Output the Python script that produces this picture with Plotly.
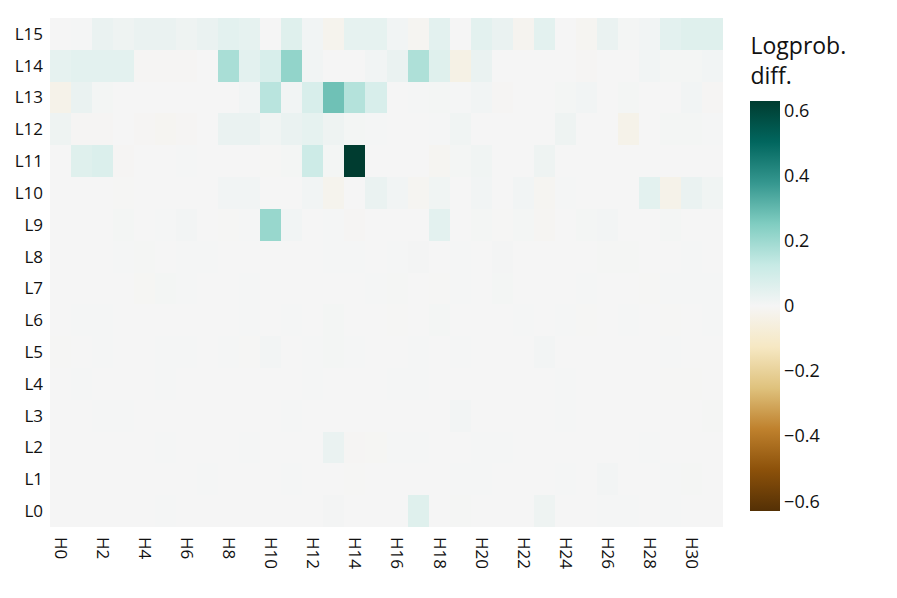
import plotly.graph_objects as go

heads = [f"H{i}" for i in range(32)]
layers = [f"L{i}" for i in range(16)]

# logprob difference per layer (rows L0..L15) and head (columns H0..H31)
L0 = [0, 0.001, 0, 0, 0, 0.003, 0, 0, 0.001, 0.001, 0, 0.001, 0, 0.006, 0, 0,
      0, 0.06, 0, 0.004, 0, 0, 0, 0.02, 0, 0, 0.003, 0.003, 0, 0.002, 0, 0]
L1 = [0, 0, 0, 0, 0, 0, 0, 0.003, 0, 0, 0, 0.002, 0, 0, -0.002, 0,
      0, 0, 0, 0.003, 0.002, 0, 0, -0.001, 0.002, 0, 0.008, 0, 0, 0.002, 0.004, 0]
L2 = [0, 0, 0.001, 0, 0, 0.002, 0, 0, 0, 0.002, 0, 0, 0, 0.03, -0.005, -0.004,
      0.002, 0.002, 0, 0, 0.003, 0.003, 0, 0, 0, 0, 0, 0, 0.002, -0.001, 0, 0]
L3 = [0, 0, 0.002, 0.002, 0, 0, 0, 0, 0, 0, 0, 0.002, 0, 0, 0, 0,
      0, 0, -0.001, 0.008, 0, 0, 0, 0, 0.003, 0, 0, 0, 0, 0, 0, 0.004]
L4 = [0, 0.002, 0, 0, 0, 0.002, 0, 0, 0, 0, 0, 0, 0.002, 0, 0, 0,
      0.003, 0.003, 0, 0.001, 0, 0, -0.001, 0, 0.002, 0, 0, 0.001, -0.001, -0.002, -0.002, 0]
L5 = [-0.002, 0, 0.002, 0, 0, 0.002, 0.002, 0, 0.002, -0.002, 0.008, 0, 0.002, 0.005, 0.002, 0,
      0, 0.003, 0, 0.002, 0, 0, 0, 0.008, 0, 0, 0, 0, 0, 0.003, 0, 0]
L6 = [0, 0.003, 0.003, 0, 0, 0, 0, 0, 0, 0.002, 0, 0.002, 0, 0.005, 0, 0,
      -0.002, 0, 0.005, 0, 0, 0, 0.002, 0, 0.003, -0.002, 0, 0.003, 0, -0.002, 0, 0.002]
L7 = [0, 0, 0, 0, -0.004, 0.005, 0.003, 0, 0, 0.003, 0, 0, 0, 0, 0, 0.003,
      0.004, 0, -0.003, 0.003, 0, 0.005, 0, 0, 0, 0.003, 0, 0, -0.002, 0.002, 0.003, 0.003]
L8 = [0, 0, 0, 0.002, 0.004, 0, 0.003, 0.003, 0, 0, 0, 0, 0, 0.003, 0.003, 0,
      0.003, 0.006, 0, 0.002, 0, 0.006, 0, 0, 0, 0, 0.004, 0.004, 0, 0, 0.002, 0]
L9 = [0, 0, 0, 0.005, 0, 0.003, 0.008, 0, -0.002, 0.003, 0.21, 0.01, 0, 0.003, -0.005, 0,
      0, 0, 0.05, 0, 0.005, -0.003, 0.005, -0.008, 0, 0.005, 0.008, 0, 0, 0.005, 0, 0]
L10 = [0, 0, 0, -0.002, 0, 0, 0, 0, 0.01, 0.01, 0, 0, 0.01, -0.02, 0, 0.03,
       0.01, -0.01, 0.015, 0, 0.01, 0, 0.01, -0.01, 0.003, 0, 0, 0, 0.05, -0.03, 0.03, 0.015]
L11 = [0, 0.06, 0.07, -0.005, 0, 0, 0.003, 0, 0, 0, -0.002, 0.005, 0.11, 0.005, 0.63, 0,
       0, 0, -0.01, 0.005, 0.015, 0, 0, 0.02, 0, 0, 0, 0, 0, 0, 0, 0]
L12 = [0.02, -0.005, -0.005, 0, -0.005, -0.01, -0.005, 0, 0.03, 0.03, 0.015, 0.03, 0.04, 0.02, 0.005, 0.003,
       0, 0, 0.003, 0.015, 0, 0, 0, 0, 0.02, 0, 0, -0.03, 0, 0.005, 0.005, 0.003]
L13 = [-0.03, 0.03, 0.005, 0, 0, 0, 0, 0, 0, 0.01, 0.15, 0.01, 0.08, 0.28, 0.16, 0.08,
       0, 0.003, 0.005, 0.003, 0.01, -0.005, 0, 0, 0.005, 0.01, 0, 0.005, 0, 0, 0.01, -0.005]
L14 = [0.04, 0.05, 0.05, 0.05, -0.005, -0.005, -0.005, 0, 0.18, 0.05, 0.08, 0.22, 0.01, 0, 0, 0.01,
       0.03, 0.17, 0.06, -0.04, 0.03, 0, 0, 0, 0, -0.005, 0, 0, 0.01, 0.005, 0.005, 0.01]
L15 = [0, 0.003, 0.03, 0.02, 0.03, 0.03, 0.02, 0.03, 0.05, 0.04, 0, 0.06, 0.01, -0.02, 0.04, 0.04,
       0.01, -0.01, 0.05, 0, 0.05, 0.03, -0.015, 0.05, 0, -0.01, 0.03, 0.005, 0.01, 0.05, 0.06, 0.06]

z = [L0, L1, L2, L3, L4, L5, L6, L7, L8, L9, L10, L11, L12, L13, L14, L15]

font = "Open Sans"

fig = go.Figure()
fig.add_trace(go.Heatmap(
    z=z, x=heads, y=layers,
    colorscale="BrBG", zmin=-0.63, zmax=0.63, zmid=0,
    colorbar=dict(
        title=dict(text="Logprob.<br>diff.", side="top", font=dict(size=23, family=font, color="#111")),
        tickvals=[-0.6, -0.4, -0.2, 0, 0.2, 0.4, 0.6],
        tickfont=dict(size=18, family=font, color="#111"),
        thickness=30, len=1.0, y=0.5, ypad=16, x=1.026, xanchor="left",
        outlinewidth=0, ticks="",
    ),
))

# the page body adds an 8px offset, so the figure is 8px smaller in each direction
fig.update_layout(
    width=889, height=590,
    margin=dict(l=42, r=174, t=10, b=71, autoexpand=False),
    paper_bgcolor="white", plot_bgcolor="white",
    font=dict(family=font, size=17, color="#111"),
)
fig.update_xaxes(tickvals=heads[::2], tickangle=90, showgrid=False, zeroline=False,
                 ticks="", automargin=False, ticklabelstandoff=9, tickfont=dict(size=17))
fig.update_yaxes(showgrid=False, zeroline=False, ticks="", automargin=False,
                 ticklabelstandoff=6, tickfont=dict(size=17))

fig.write_html("out.html")
